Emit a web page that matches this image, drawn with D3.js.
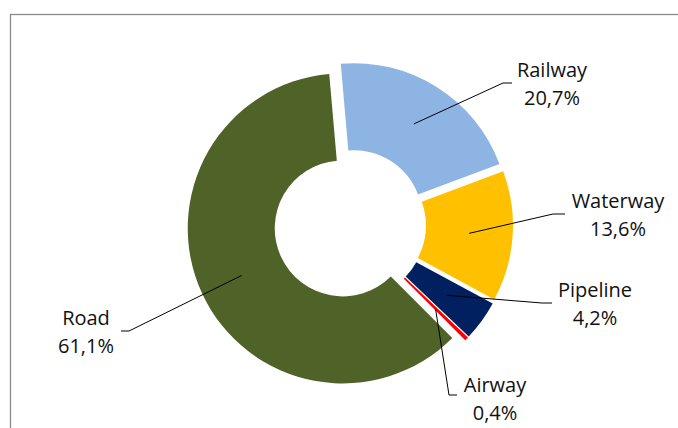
<!DOCTYPE html>
<html>
<head>
<meta charset="utf-8">
<script src="https://cdn.jsdelivr.net/npm/d3@7"></script>
<style>
  html, body { margin: 0; padding: 0; background: #ffffff; }
  svg { display: block; }
  text { font-family: "Open Sans", "Noto Sans", sans-serif; fill: #111111; }
</style>
</head>
<body>
<svg id="chart" width="678" height="428"></svg>
<script>
// Freight transport modal split (share of tonne-km, %)
const categories = ["Railway", "Waterway", "Pipeline", "Airway", "Road"];
const shares = [20.7, 13.6, 4.2, 0.4, 61.1];
const valueLabels = ["20,7%", "13,6%", "4,2%", "0,4%", "61,1%"];
const colors = ["#8EB4E3", "#FFC000", "#002060", "#FF0000", "#4F6228"];

// Label text anchors and leader-line elbows for each slice (same order as categories)
const labelLayout = [
  { x: 552, y: 77,  elbow: [503, 83],  end: [512, 83] },
  { x: 618, y: 208, elbow: [553, 214], end: [565, 214] },
  { x: 595, y: 297, elbow: [542, 303], end: [552, 303] },
  { x: 495, y: 392, elbow: [449, 395], end: [457, 395] },
  { x: 86,  y: 325, elbow: [129, 331], end: [121, 331] }
];

const svg = d3.select("#chart");
const cx = 350, cy = 225;
const outerR = 155, innerR = 68, explode = 8;
const lineGap = 27.5;
const fontSize = 20;

// chart area frame
svg.append("rect")
  .attr("x", 10.5).attr("y", 14.5)
  .attr("width", 700).attr("height", 450)
  .attr("fill", "none")
  .attr("stroke", "#8a8a8a")
  .attr("stroke-width", 1.3);

const data = categories.map((c, i) => ({ name: c, value: shares[i], label: valueLabels[i], color: colors[i], layout: labelLayout[i] }));

const pie = d3.pie()
  .value(d => d.value)
  .sort(null)
  .startAngle(-5 * Math.PI / 180)
  .endAngle(355 * Math.PI / 180);

const arc = d3.arc().innerRadius(innerR).outerRadius(outerR);
const arcs = pie(data);

// each slice is pulled out along its bisector
function offset(a) {
  const mid = (a.startAngle + a.endAngle) / 2;
  return [Math.sin(mid) * explode, -Math.cos(mid) * explode];
}

const g = svg.append("g").attr("transform", `translate(${cx},${cy})`);

g.selectAll("path.slice")
  .data(arcs)
  .join("path")
  .attr("class", "slice")
  .attr("transform", d => { const o = offset(d); return `translate(${o[0]},${o[1]})`; })
  .attr("d", arc)
  .attr("fill", d => d.data.color);

// leader lines from slice centroid to the label
svg.append("g").selectAll("polyline")
  .data(arcs)
  .join("polyline")
  .attr("fill", "none")
  .attr("stroke", "#000")
  .attr("stroke-width", 1)
  .attr("points", d => {
    const o = offset(d);
    const c = arc.centroid(d);
    const start = [cx + o[0] + c[0], cy + o[1] + c[1]];
    const L = d.data.layout;
    return [start, L.elbow, L.end].map(p => p.join(",")).join(" ");
  });

const labels = svg.append("g").selectAll("text")
  .data(arcs)
  .join("text")
  .attr("text-anchor", "middle")
  .attr("font-size", fontSize);

labels.append("tspan")
  .attr("x", d => d.data.layout.x)
  .attr("y", d => d.data.layout.y)
  .text(d => d.data.name);

labels.append("tspan")
  .attr("x", d => d.data.layout.x)
  .attr("y", d => d.data.layout.y + lineGap)
  .text(d => d.data.label);
</script>
</body>
</html>
